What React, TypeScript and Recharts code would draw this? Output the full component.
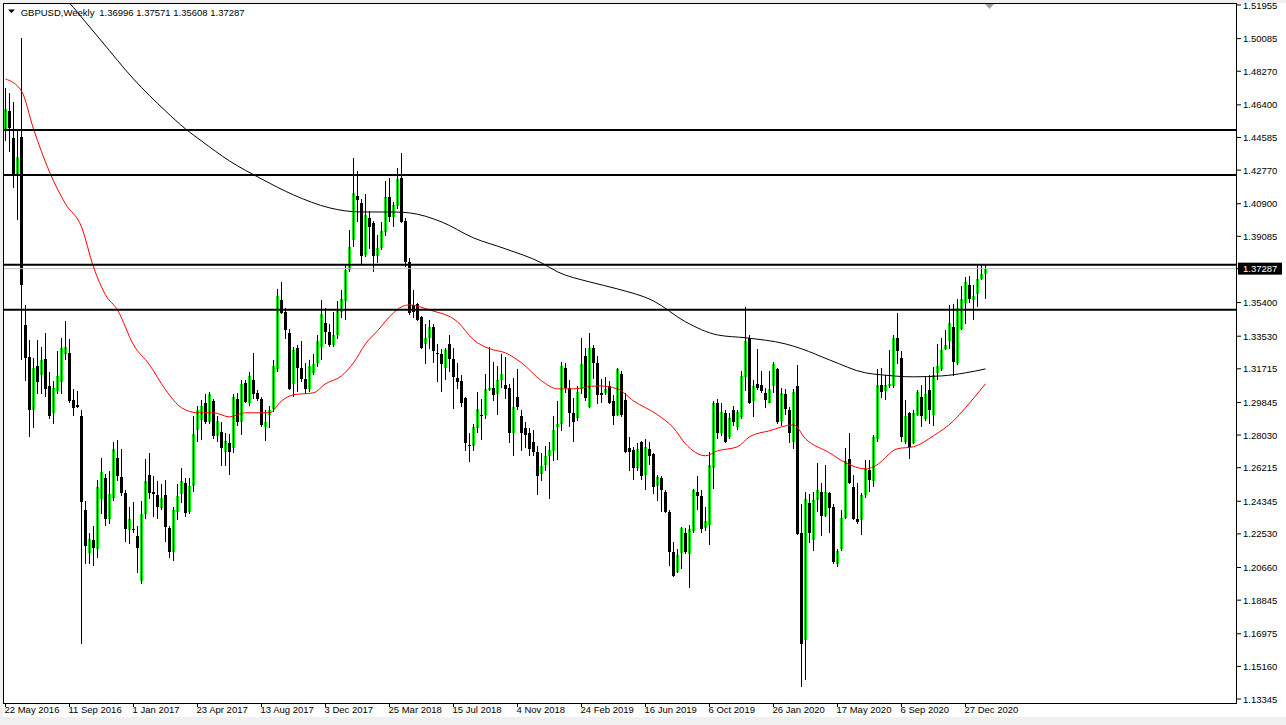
import React from 'react';
import { ComposedChart, Bar, Line, XAxis, YAxis, ReferenceLine } from 'recharts';

const FONT = '"Liberation Sans", Arial, sans-serif';

// GBPUSD weekly candles, first bar = week of 22 May 2016
const opens = [
  1.4495, 1.4606, 1.4456, 1.4250, 1.4461, 1.3416, 1.3238, 1.2943, 1.3188, 1.3138,
  1.3227, 1.3077, 1.2927, 1.3049, 1.3099, 1.3255, 1.3260, 1.2999, 1.2971, 1.2910,
  1.2387, 1.2148, 1.2221, 1.2171, 1.2449, 1.2565, 1.2337, 1.2454, 1.2676, 1.2571,
  1.2482, 1.2276, 1.2282, 1.2243, 1.1993, 1.2365, 1.2582, 1.2488, 1.2471, 1.2399,
  1.2471, 1.2287, 1.2154, 1.2376, 1.2476, 1.2538, 1.2376, 1.2521, 1.2832, 1.2888,
  1.2982, 1.2877, 1.2993, 1.2799, 1.2821, 1.2710, 1.2760, 1.2732, 1.3004, 1.2877,
  1.3094, 1.2982, 1.3110, 1.3038, 1.3004, 1.2849, 1.2916, 1.2949, 1.3171, 1.3555,
  1.3488, 1.3372, 1.3088, 1.3288, 1.3177, 1.3116, 1.3060, 1.3149, 1.3205, 1.3294,
  1.3427, 1.3377, 1.3305, 1.3360, 1.3488, 1.3549, 1.3722, 1.3889, 1.4133, 1.4094,
  1.3805, 1.4011, 1.3983, 1.3800, 1.3844, 1.3933, 1.4128, 1.4017, 1.4078, 1.4233,
  1.3994, 1.3766, 1.3527, 1.3533, 1.3461, 1.3310, 1.3344, 1.3405, 1.3260, 1.3255,
  1.3177, 1.3310, 1.3227, 1.3121, 1.3105, 1.3010, 1.2749, 1.2743, 1.2843, 1.2916,
  1.2916, 1.3055, 1.3066, 1.3032, 1.3110, 1.3082, 1.3066, 1.2816, 1.3016, 1.2910,
  1.2843, 1.2816, 1.2765, 1.2710, 1.2588, 1.2638, 1.2688, 1.2716, 1.2849, 1.2866,
  1.3177, 1.3066, 1.2927, 1.2899, 1.3060, 1.3244, 1.2960, 1.3288, 1.3205, 1.3038,
  1.3038, 1.3077, 1.2993, 1.2916, 1.3144, 1.2999, 1.2732, 1.2721, 1.2621, 1.2765,
  1.2582, 1.2727, 1.2699, 1.2521, 1.2565, 1.2488, 1.2376, 1.2154, 1.2043, 1.2148,
  1.2260, 1.2143, 1.2271, 1.2488, 1.2465, 1.2287, 1.2304, 1.2621, 1.2982, 1.2816,
  1.2927, 1.2793, 1.2943, 1.2849, 1.2905, 1.3127, 1.3344, 1.2993, 1.3088, 1.3082,
  1.3038, 1.2982, 1.3077, 1.3171, 1.2882, 1.3032, 1.2943, 1.2765, 1.3077, 1.2260,
  1.1665, 1.2426, 1.2221, 1.2443, 1.2488, 1.2354, 1.2482, 1.2404, 1.2087, 1.2171,
  1.2343, 1.2671, 1.2515, 1.2337, 1.2332, 1.2471, 1.2610, 1.2549, 1.2782, 1.3082,
  1.3049, 1.3077, 1.3077, 1.3344, 1.3233, 1.2765, 1.2927, 1.2760, 1.2916, 1.3016,
  1.2893, 1.3055, 1.2916, 1.3149, 1.3171, 1.3283, 1.3327, 1.3405, 1.3205, 1.3394,
  1.3538, 1.3639, 1.3555, 1.3589, 1.3672, 1.36996,
];
const highs = [
  1.4734, 1.4706, 1.4656, 1.4495, 1.5012, 1.3527, 1.3333, 1.3233, 1.3333, 1.3294,
  1.3372, 1.3155, 1.3105, 1.3272, 1.3344, 1.3438, 1.3338, 1.3060, 1.3049, 1.2943,
  1.2437, 1.2260, 1.2299, 1.2554, 1.2677, 1.2588, 1.2604, 1.2765, 1.2777, 1.2727,
  1.2499, 1.2404, 1.2432, 1.2299, 1.2437, 1.2671, 1.2704, 1.2576, 1.2549, 1.2532,
  1.2554, 1.2299, 1.2404, 1.2532, 1.2621, 1.2565, 1.2565, 1.2910, 1.2966, 1.2999,
  1.3032, 1.3043, 1.3004, 1.2910, 1.2877, 1.2816, 1.2810, 1.3032, 1.3038, 1.3110,
  1.3110, 1.3155, 1.3260, 1.3055, 1.3016, 1.2943, 1.2966, 1.3221, 1.3616, 1.3655,
  1.3511, 1.3394, 1.3294, 1.3305, 1.3327, 1.3205, 1.3221, 1.3255, 1.3360, 1.3555,
  1.3511, 1.3422, 1.3488, 1.3549, 1.3611, 1.3750, 1.3944, 1.4344, 1.4272, 1.4117,
  1.4144, 1.4050, 1.3994, 1.3916, 1.3989, 1.4217, 1.4233, 1.4100, 1.4289, 1.4372,
  1.4011, 1.3789, 1.3611, 1.3538, 1.3466, 1.3422, 1.3444, 1.3422, 1.3310, 1.3283,
  1.3288, 1.3360, 1.3288, 1.3205, 1.3138, 1.3016, 1.2816, 1.2866, 1.3043, 1.3004,
  1.3144, 1.3294, 1.3210, 1.3188, 1.3255, 1.3238, 1.3088, 1.3121, 1.3171, 1.2943,
  1.2877, 1.2843, 1.2832, 1.2743, 1.2704, 1.2743, 1.2765, 1.2910, 1.2993, 1.3210,
  1.3205, 1.3110, 1.3010, 1.3077, 1.3344, 1.3288, 1.3372, 1.3305, 1.3244, 1.3116,
  1.3127, 1.3105, 1.3027, 1.3177, 1.3160, 1.3038, 1.2793, 1.2738, 1.2760, 1.2771,
  1.2782, 1.2765, 1.2704, 1.2582, 1.2576, 1.2499, 1.2387, 1.2210, 1.2171, 1.2293,
  1.2287, 1.2304, 1.2504, 1.2576, 1.2499, 1.2404, 1.2710, 1.2993, 1.3004, 1.2982,
  1.2943, 1.2927, 1.2966, 1.2943, 1.3160, 1.3516, 1.3360, 1.3110, 1.3283, 1.3160,
  1.3066, 1.3160, 1.3210, 1.3177, 1.3066, 1.3060, 1.2960, 1.3060, 1.3194, 1.2421,
  1.2488, 1.2476, 1.2488, 1.2649, 1.2538, 1.2638, 1.2488, 1.2421, 1.2171, 1.2387,
  1.2732, 1.2816, 1.2582, 1.2538, 1.2482, 1.2665, 1.2665, 1.2805, 1.3171, 1.3177,
  1.3138, 1.3277, 1.3360, 1.3483, 1.3272, 1.2999, 1.2932, 1.2943, 1.3055, 1.3082,
  1.3132, 1.3138, 1.3183, 1.3310, 1.3344, 1.3388, 1.3527, 1.3533, 1.3561, 1.3633,
  1.3683, 1.3689, 1.3639, 1.3750, 1.3750, 1.37571,
];
const lows = [
  1.4439, 1.4378, 1.4178, 1.4000, 1.3221, 1.3105, 1.2793, 1.2843, 1.3032, 1.3032,
  1.3016, 1.2893, 1.2866, 1.3032, 1.3032, 1.3221, 1.2982, 1.2910, 1.2955, 1.1642,
  1.2087, 1.2087, 1.2076, 1.2120, 1.2365, 1.2299, 1.2310, 1.2437, 1.2549, 1.2465,
  1.2210, 1.2198, 1.2260, 1.2037, 1.1976, 1.2337, 1.2449, 1.2348, 1.2337, 1.2387,
  1.2210, 1.2120, 1.2104, 1.2332, 1.2426, 1.2348, 1.2365, 1.2488, 1.2765, 1.2777,
  1.2866, 1.2866, 1.2782, 1.2765, 1.2632, 1.2632, 1.2582, 1.2704, 1.2855, 1.2804,
  1.2982, 1.2966, 1.3004, 1.2993, 1.2849, 1.2771, 1.2843, 1.2932, 1.3155, 1.3477,
  1.3338, 1.3055, 1.3016, 1.3043, 1.3099, 1.3032, 1.3043, 1.3138, 1.3182, 1.3221,
  1.3310, 1.3294, 1.3294, 1.3338, 1.3455, 1.3444, 1.3711, 1.3850, 1.3989, 1.3755,
  1.3794, 1.3839, 1.3711, 1.3761, 1.3833, 1.3911, 1.3989, 1.3961, 1.4061, 1.3983,
  1.3739, 1.3472, 1.3455, 1.3438, 1.3283, 1.3199, 1.3283, 1.3205, 1.3099, 1.3043,
  1.3110, 1.3155, 1.2949, 1.3060, 1.2960, 1.2716, 1.2654, 1.2716, 1.2816, 1.2777,
  1.2893, 1.3049, 1.2993, 1.2916, 1.3066, 1.3004, 1.2760, 1.2688, 1.2943, 1.2716,
  1.2732, 1.2688, 1.2688, 1.2471, 1.2549, 1.2604, 1.2449, 1.2660, 1.2665, 1.2827,
  1.3038, 1.2849, 1.2765, 1.2882, 1.3032, 1.2993, 1.2955, 1.3116, 1.2977, 1.2982,
  1.3027, 1.2977, 1.2860, 1.2910, 1.2905, 1.2704, 1.2604, 1.2554, 1.2604, 1.2554,
  1.2499, 1.2638, 1.2476, 1.2437, 1.2376, 1.2371, 1.2076, 1.2015, 1.2037, 1.2059,
  1.2143, 1.1954, 1.2260, 1.2387, 1.2260, 1.2271, 1.2193, 1.2504, 1.2782, 1.2799,
  1.2760, 1.2782, 1.2855, 1.2832, 1.2893, 1.3049, 1.2977, 1.2905, 1.3055, 1.3038,
  1.2955, 1.2982, 1.3038, 1.2866, 1.2855, 1.2916, 1.2760, 1.2727, 1.2248, 1.1403,
  1.1442, 1.2204, 1.2160, 1.2376, 1.2243, 1.2348, 1.2260, 1.2087, 1.2070, 1.2160,
  1.2337, 1.2532, 1.2332, 1.2310, 1.2248, 1.2454, 1.2488, 1.2515, 1.2765, 1.3010,
  1.2999, 1.3066, 1.3066, 1.3199, 1.2765, 1.2754, 1.2671, 1.2754, 1.2910, 1.2849,
  1.2882, 1.2866, 1.2855, 1.3110, 1.3160, 1.3277, 1.3283, 1.3132, 1.3194, 1.3388,
  1.3422, 1.3538, 1.3444, 1.3516, 1.3666, 1.35608,
];
const closes = [
  1.4617, 1.4511, 1.4250, 1.4350, 1.3639, 1.3233, 1.2943, 1.3177, 1.3099, 1.3221,
  1.3060, 1.2910, 1.3066, 1.3132, 1.3288, 1.3294, 1.2993, 1.2955, 1.2960, 1.2432,
  1.2187, 1.2226, 1.2176, 1.2515, 1.2599, 1.2337, 1.2476, 1.2727, 1.2576, 1.2482,
  1.2282, 1.2337, 1.2276, 1.2176, 1.2365, 1.2549, 1.2482, 1.2476, 1.2404, 1.2454,
  1.2293, 1.2154, 1.2387, 1.2465, 1.2549, 1.2371, 1.2521, 1.2810, 1.2943, 1.2966,
  1.2877, 1.3032, 1.2799, 1.2882, 1.2732, 1.2771, 1.2710, 1.3016, 1.2877, 1.3088,
  1.2988, 1.3132, 1.3032, 1.3004, 1.2860, 1.2877, 1.2943, 1.3188, 1.3577, 1.3483,
  1.3388, 1.3060, 1.3277, 1.3177, 1.3116, 1.3060, 1.3188, 1.3199, 1.3327, 1.3477,
  1.3377, 1.3305, 1.3360, 1.3494, 1.3561, 1.3722, 1.3850, 1.4150, 1.4111, 1.3800,
  1.4028, 1.3961, 1.3800, 1.3844, 1.3939, 1.4128, 1.4017, 1.4083, 1.4228, 1.3989,
  1.3766, 1.3483, 1.3488, 1.3444, 1.3288, 1.3344, 1.3405, 1.3272, 1.3255, 1.3199,
  1.3277, 1.3227, 1.3127, 1.3099, 1.2982, 1.2760, 1.2743, 1.2849, 1.2949, 1.2910,
  1.3060, 1.3066, 1.3027, 1.3110, 1.3144, 1.3060, 1.2816, 1.2960, 1.2960, 1.2816,
  1.2805, 1.2727, 1.2710, 1.2576, 1.2632, 1.2688, 1.2721, 1.2832, 1.2866, 1.3188,
  1.3066, 1.2927, 1.2877, 1.3043, 1.3199, 1.3010, 1.3288, 1.3205, 1.3027, 1.3027,
  1.3060, 1.2982, 1.2910, 1.3171, 1.2916, 1.2710, 1.2710, 1.2621, 1.2727, 1.2576,
  1.2738, 1.2688, 1.2515, 1.2571, 1.2499, 1.2376, 1.2154, 1.2021, 1.2137, 1.2287,
  1.2154, 1.2282, 1.2499, 1.2465, 1.2282, 1.2326, 1.2638, 1.2982, 1.2816, 1.2932,
  1.2765, 1.2899, 1.2877, 1.2932, 1.3132, 1.3327, 1.2982, 1.3077, 1.3066, 1.3049,
  1.2999, 1.3060, 1.3199, 1.2877, 1.3038, 1.2949, 1.2816, 1.3043, 1.2254, 1.1642,
  1.2449, 1.2260, 1.2443, 1.2499, 1.2354, 1.2488, 1.2399, 1.2098, 1.2160, 1.2343,
  1.2660, 1.2538, 1.2337, 1.2321, 1.2471, 1.2615, 1.2554, 1.2793, 1.3082, 1.3043,
  1.3082, 1.3088, 1.3344, 1.3272, 1.2793, 1.2910, 1.2738, 1.2927, 1.3043, 1.2910,
  1.3032, 1.2943, 1.3138, 1.3188, 1.3277, 1.3305, 1.3427, 1.3210, 1.3511, 1.3561,
  1.3655, 1.3561, 1.3577, 1.3672, 1.3700, 1.37287,
];

// moving averages at selected bars (bar index, price)
const maFastIdx = [0, 4, 7, 11, 15, 19, 22, 25, 28, 32, 36, 40, 44, 48, 52, 56, 60, 66, 69, 72, 77, 80, 84, 87, 90, 93, 97, 99, 101, 106, 113, 117, 121, 125, 129, 134, 138, 142, 148, 153, 157, 163, 167, 170, 175, 178, 183, 186, 191, 197, 200, 206, 210, 215, 217, 223, 227, 232, 237, 240, 245];
const maFastVal = [1.4784, 1.4717, 1.4506, 1.4267, 1.4089, 1.3961, 1.3738, 1.3583, 1.3499, 1.3305, 1.3194, 1.3055, 1.2955, 1.2927, 1.2927, 1.2904, 1.2927, 1.2927, 1.2993, 1.3027, 1.3038, 1.3088, 1.3132, 1.3205, 1.3310, 1.3383, 1.3483, 1.3516, 1.3527, 1.3499, 1.3433, 1.3333, 1.3283, 1.3260, 1.3205, 1.3105, 1.3060, 1.3060, 1.3077, 1.3060, 1.2993, 1.2916, 1.2843, 1.2754, 1.2688, 1.2715, 1.2738, 1.2793, 1.2827, 1.2860, 1.2782, 1.2704, 1.2649, 1.2615, 1.2626, 1.2727, 1.2738, 1.2799, 1.2882, 1.2955, 1.3088];
const maSlowIdx = [14, 16, 20, 24, 32, 40, 45, 49, 56, 64, 72, 81, 85, 89, 97, 101, 109, 117, 125, 134, 138, 146, 153, 162, 170, 178, 185, 195, 199, 206, 215, 219, 227, 234, 240, 245];
const maSlowVal = [1.5250, 1.5206, 1.5101, 1.4995, 1.4784, 1.4606, 1.4506, 1.4439, 1.4328, 1.4228, 1.4139, 1.4067, 1.4050, 1.4044, 1.4044, 1.4039, 1.3989, 1.3900, 1.3839, 1.3761, 1.3711, 1.3655, 1.3616, 1.3549, 1.3433, 1.3360, 1.3344, 1.3310, 1.3283, 1.3221, 1.3149, 1.3138, 1.3127, 1.3132, 1.3149, 1.3171];

const dateTickIdx = [0, 16, 32, 48, 64, 80, 96, 112, 128, 144, 160, 176, 192, 208, 224, 240];
const dateTickLabels = ['22 May 2016', '11 Sep 2016', '1 Jan 2017', '23 Apr 2017', '13 Aug 2017', '3 Dec 2017', '25 Mar 2018', '15 Jul 2018', '4 Nov 2018', '24 Feb 2019', '16 Jun 2019', '6 Oct 2019', '26 Jan 2020', '17 May 2020', '6 Sep 2020', '27 Dec 2020'];

const lastPrice = 1.37287;
const priceTicks = [1.51955, 1.50085, 1.4827, 1.464, 1.44585, 1.4277, 1.409, 1.39085, lastPrice, 1.354, 1.3353, 1.31715, 1.29845, 1.2803, 1.26215, 1.24345, 1.2253, 1.2066, 1.18845, 1.16975, 1.1516, 1.13345];
const levels = [1.45, 1.425, 1.375, 1.35];

const data = opens.map((o, i) => ({
  i,
  open: o,
  high: highs[i],
  low: lows[i],
  close: closes[i],
  range: [lows[i], highs[i]],
  maFast: null as number | null,
  maSlow: null as number | null,
}));
maFastIdx.forEach((idx, k) => { data[idx].maFast = maFastVal[k]; });
maSlowIdx.forEach((idx, k) => { data[idx].maSlow = maSlowVal[k]; });

const Candle = (props: any) => {
  const { x, y, width, height, payload } = props;
  if (!payload || x == null || y == null) return null;
  const { open, high, low, close } = payload;
  const top = Math.min(y, y + height);
  const span = Math.abs(height);
  const k = high > low ? span / (high - low) : 0;
  const py = (v: number) => top + (high - v) * k;
  const cx = x + width / 2;
  const yO = py(open);
  const yC = py(close);
  const bodyTop = Math.min(yO, yC);
  const bodyH = Math.max(Math.abs(yO - yC), 1);
  const up = close >= open;
  return (
    <g shapeRendering="crispEdges">
      <rect x={cx - 1.5} y={bodyTop} width={3} height={bodyH} fill={up ? '#00ff00' : '#000000'} />
      <line x1={cx} x2={cx} y1={top} y2={top + span} stroke="#000" strokeWidth={1} />
    </g>
  );
};

const PriceTick = ({ x, y, payload }: any) => {
  const v = payload.value as number;
  const label = v.toFixed(5);
  if (v === lastPrice) {
    return (
      <g>
        <rect x={x - 5} y={y - 6} width={44} height={12} fill="#000" />
        <text x={x} y={y + 3.5} fill="#fff" fontSize={9.5} fontFamily={FONT}>{label}</text>
      </g>
    );
  }
  return <text x={x} y={y + 3.5} fill="#000" fontSize={9.5} fontFamily={FONT}>{label}</text>;
};

const DateTick = ({ x, y, payload }: any) => {
  const k = dateTickIdx.indexOf(payload.value);
  return (
    <text x={x - 1} y={y + 4} fill="#000" fontSize={9.5} fontFamily={FONT} textAnchor="start">
      {k >= 0 ? dateTickLabels[k] : ''}
    </text>
  );
};

export default function App() {
  return (
    <div style={{ position: 'absolute', left: 0, top: 0, width: 1286, height: 725, background: '#f0f0f0', overflow: 'hidden' }}>
      <div style={{ position: 'absolute', left: 3, top: 3, width: 1283, height: 714, background: '#fff' }} />
      <div style={{ position: 'absolute', left: 0, top: 0 }}>
        <ComposedChart width={1286} height={725} data={data} margin={{ top: 3, right: 0, bottom: 0, left: 3 }}>
          <XAxis
            dataKey="i" type="number" domain={[-0.625, 307.875]} allowDataOverflow
            ticks={dateTickIdx} interval={0} height={21} tickSize={3}
            axisLine={false} tickLine={{ stroke: '#000' }} tick={<DateTick />}
          />
          <YAxis
            orientation="right" domain={[1.130677, 1.520663]} allowDataOverflow
            ticks={priceTicks} interval={0} width={49} tickSize={4}
            axisLine={false} tickLine={{ stroke: '#000' }} tick={<PriceTick />}
          />
          <ReferenceLine y={lastPrice} stroke="#c0c0c0" strokeWidth={1} />
          <Bar dataKey="range" barSize={3} shape={(p: any) => <Candle {...p} />} isAnimationActive={false} />
          <Line dataKey="maSlow" type="monotone" stroke="#000" strokeWidth={1} dot={false} connectNulls isAnimationActive={false} />
          <Line dataKey="maFast" type="monotone" stroke="#ff0000" strokeWidth={1} dot={false} connectNulls isAnimationActive={false} />
          {levels.map((lv) => (
            <ReferenceLine key={lv} y={lv} stroke="#000" strokeWidth={2} />
          ))}
        </ComposedChart>
      </div>
      <svg width={1286} height={725} style={{ position: 'absolute', left: 0, top: 0, pointerEvents: 'none' }}>
        <rect x={3.5} y={3.5} width={1233} height={700} fill="none" stroke="#000" strokeWidth={1} shapeRendering="crispEdges" />
        <polygon points="8,9.5 15,9.5 11.5,13" fill="#000" />
        <text x={20.7} y={15.5} fontSize={9.5} fontFamily={FONT} fill="#000">GBPUSD,Weekly</text>
        <text x={99.3} y={15.5} fontSize={9.5} fontFamily={FONT} fill="#000">1.36996 1.37571 1.35608 1.37287</text>
        <polygon points="985,4 994,4 989.5,9" fill="#a0a0a0" />
      </svg>
    </div>
  );
}
